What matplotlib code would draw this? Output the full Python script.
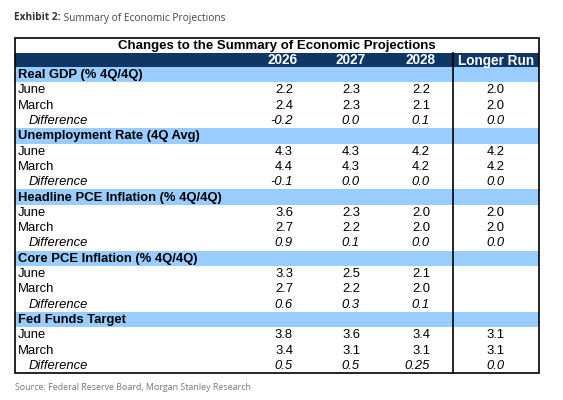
import matplotlib.pyplot as plt
from matplotlib.patches import Rectangle

# table contents
title = 'Changes to the Summary of Economic Projections'
columns = ['2026', '2027', '2028', 'Longer Run']
sections = ['Real GDP (% 4Q/4Q)', 'Unemployment Rate (4Q Avg)',
            'Headline PCE Inflation (% 4Q/4Q)', 'Core PCE Inflation (% 4Q/4Q)',
            'Fed Funds Target']
row_names = ['June', 'March', 'Difference']
june = [['2.2', '2.3', '2.2', '2.0'],
        ['4.3', '4.3', '4.2', '4.2'],
        ['3.6', '2.3', '2.0', '2.0'],
        ['3.3', '2.5', '2.1', ''],
        ['3.8', '3.6', '3.4', '3.1']]
march = [['2.4', '2.3', '2.1', '2.0'],
         ['4.4', '4.3', '4.2', '4.2'],
         ['2.7', '2.2', '2.0', '2.0'],
         ['2.7', '2.2', '2.0', ''],
         ['3.4', '3.1', '3.1', '3.1']]
difference = [['-0.2', '0.0', '0.1', '0.0'],
              ['-0.1', '0.0', '0.0', '0.0'],
              ['0.9', '0.1', '0.0', '0.0'],
              ['0.6', '0.3', '0.1', ''],
              ['0.5', '0.5', '0.25', '0.0']]

navy = '#0f3766'
light = '#99ccff'
tfont = 'Liberation Sans'
fs = 9.4

fig = plt.figure(figsize=(5.63, 4.0), dpi=100)
ax = fig.add_axes([0, 0, 1, 1])
ax.set_xlim(0, 563)
ax.set_ylim(400, 0)
ax.axis('off')

x0, x1, xsep = 15, 539, 452.5
y0 = 38
title_h, head_h = 15, 14
row_h = 15.3
val_right = [293, 360, 430]
head_right = [298, 366, 435]
lr_center = (xsep + x1) / 2

t1 = ax.text(14, 18, 'Exhibit 2:', fontsize=7.3, fontweight='bold',
             color='#333333', family='Open Sans', va='center')
ax.annotate(' Summary of Economic Projections', xy=(1, 0.5), xycoords=t1,
            va='center', ha='left', fontsize=7.3, color='#444444', family='Open Sans')

# title row
ax.text((x0 + x1) / 2, y0 + title_h / 2 + 0.5, title, ha='center', va='center',
        fontsize=9.5, fontweight='bold', family=tfont)

# header row
yh = y0 + title_h
ax.add_patch(Rectangle((x0, yh), x1 - x0, head_h, color=navy, lw=0))
for c in range(3):
    ax.text(head_right[c], yh + head_h / 2 + 0.5, columns[c], ha='right', va='center',
            fontsize=9.8, fontweight='bold', color='white', family=tfont)
ax.text(lr_center, yh + head_h / 2 + 0.5, columns[3], ha='center', va='center',
        fontsize=9.8, fontweight='bold', color='white', family=tfont)

y = yh + head_h
for s, name in enumerate(sections):
    ax.add_patch(Rectangle((x0, y), x1 - x0, row_h, color=light, lw=0))
    ax.text(x0 + 3, y + row_h / 2 + 0.5, name, ha='left', va='center',
            fontsize=fs, fontweight='bold', family=tfont)
    y += row_h
    for r, vals in enumerate([june[s], march[s], difference[s]]):
        ital = 'italic' if r == 2 else 'normal'
        xl = x0 + 14 if r == 2 else x0 + 3
        yc = y + row_h / 2 + 0.5
        ax.text(xl, yc, row_names[r], ha='left', va='center', fontsize=fs,
                style=ital, family=tfont)
        for c in range(3):
            ax.text(val_right[c], yc, vals[c], ha='right', va='center',
                    fontsize=fs, style=ital, family=tfont)
        ax.text(lr_center, yc, vals[3], ha='center', va='center', fontsize=fs,
                style=ital, family=tfont)
        y += row_h

y_end = y
ax.add_patch(Rectangle((x0, y0), x1 - x0, y_end - y0, fill=False, ec='black', lw=1.2))
ax.plot([xsep, xsep], [yh, y_end], color='black', lw=1.2)

ax.text(15, 387, 'Source: Federal Reserve Board, Morgan Stanley Research',
        fontsize=6.4, color='#777777', family='Open Sans', va='center')

fig.savefig('out.png', dpi=100)
